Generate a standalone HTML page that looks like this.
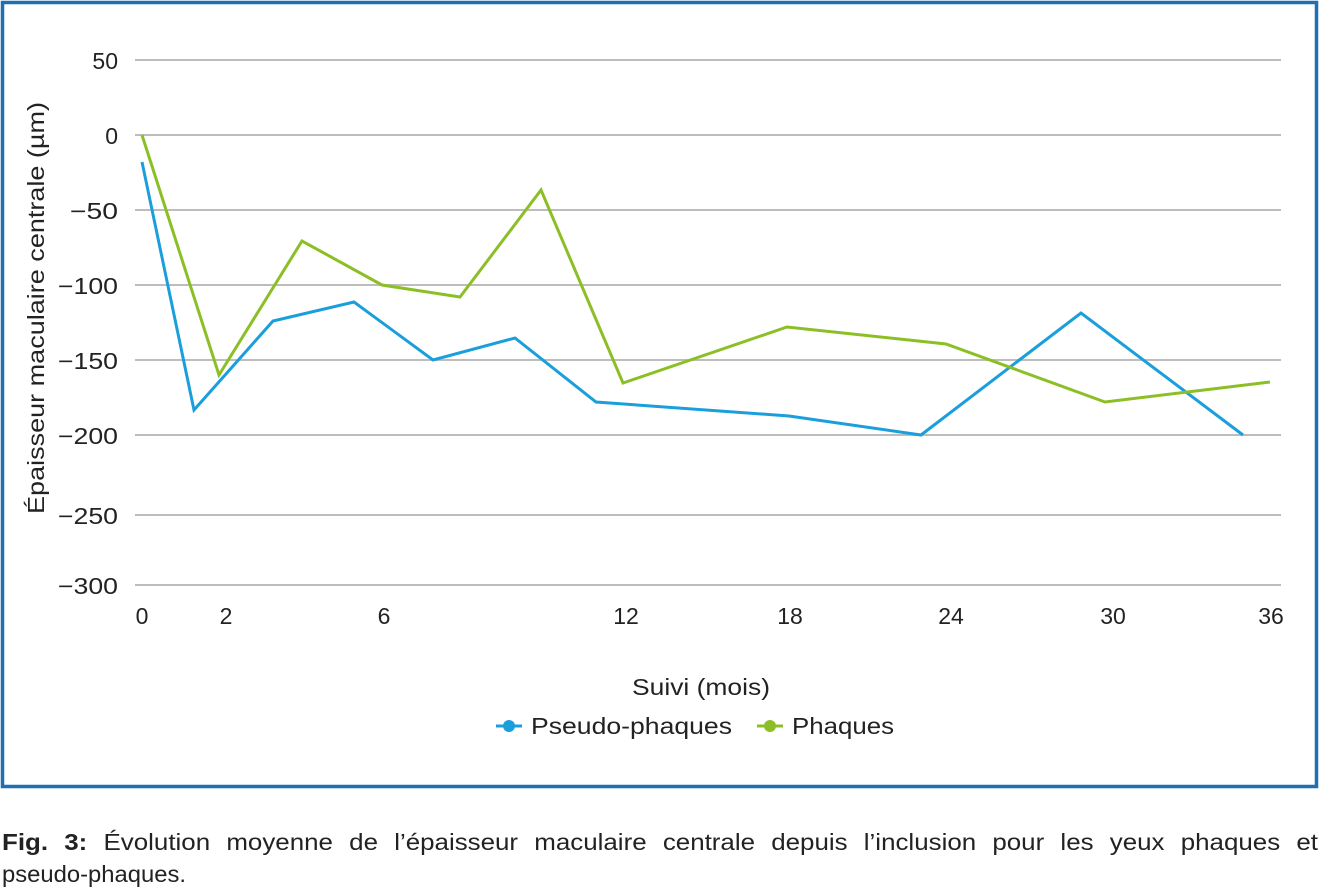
<!DOCTYPE html>
<html><head><meta charset="utf-8"><style>
body{margin:0;background:#fff;width:1320px;height:890px;overflow:hidden;font-family:"Liberation Sans",sans-serif}
</style></head><body>
<svg width="1320" height="890" xmlns="http://www.w3.org/2000/svg" font-family="Liberation Sans, sans-serif">
<rect x="2.5" y="2.5" width="1314" height="784" fill="#fff" stroke="#1e6fb4" stroke-width="3.5"/>
<g stroke="#bdbdbd" stroke-width="2">
<line x1="135" y1="60" x2="1281" y2="60"/><line x1="135" y1="135" x2="1281" y2="135"/>
<line x1="135" y1="210" x2="1281" y2="210"/><line x1="135" y1="285" x2="1281" y2="285"/>
<line x1="135" y1="360" x2="1281" y2="360"/><line x1="135" y1="435" x2="1281" y2="435"/>
<line x1="135" y1="515" x2="1281" y2="515"/><line x1="135" y1="585" x2="1281" y2="585"/>
</g>
<g font-size="23" fill="#222" text-anchor="end">
<text x="118" y="69">50</text><text x="118" y="144">0</text><text x="118" y="219" textLength="48" lengthAdjust="spacingAndGlyphs">−50</text>
<text x="118" y="294" textLength="60" lengthAdjust="spacingAndGlyphs">−100</text><text x="118" y="369" textLength="60" lengthAdjust="spacingAndGlyphs">−150</text><text x="118" y="444" textLength="60" lengthAdjust="spacingAndGlyphs">−200</text>
<text x="118" y="524" textLength="60" lengthAdjust="spacingAndGlyphs">−250</text><text x="118" y="594" textLength="60" lengthAdjust="spacingAndGlyphs">−300</text>
</g>
<g font-size="23" fill="#222" text-anchor="middle">
<text x="142" y="624">0</text><text x="226" y="624">2</text><text x="384" y="624">6</text>
<text x="626" y="624">12</text><text x="790" y="624">18</text><text x="951" y="624">24</text>
<text x="1113" y="624">30</text><text x="1271" y="624">36</text>
<text x="701" y="695" textLength="138" lengthAdjust="spacingAndGlyphs">Suivi (mois)</text>
</g>
<text transform="translate(44,308) rotate(-90)" font-size="23" fill="#222" text-anchor="middle" textLength="412" lengthAdjust="spacingAndGlyphs">Épaisseur maculaire centrale (µm)</text>
<polyline fill="none" stroke="#1a9fdc" stroke-width="3" points="142,162 194,410 273,321 354,302 433,360 515,338 596,402 789,416 921,435 1081,313 1243,435"/>
<polyline fill="none" stroke="#8cbf26" stroke-width="3" points="142,135 219,375 302,241 382,285 460,297 541,190 623,383 787,327 946,344 1105,402 1270,382"/>
<line x1="496" y1="726" x2="522" y2="726" stroke="#1a9fdc" stroke-width="3"/><circle cx="509" cy="726" r="6" fill="#1a9fdc"/>
<line x1="757" y1="726" x2="783" y2="726" stroke="#8cbf26" stroke-width="3"/><circle cx="770" cy="726" r="6" fill="#8cbf26"/>
<g font-size="23" fill="#222"><text x="531" y="734" textLength="201" lengthAdjust="spacingAndGlyphs">Pseudo-phaques</text><text x="792" y="734" textLength="102" lengthAdjust="spacingAndGlyphs">Phaques</text></g>
<text x="2" y="850" font-size="23" fill="#222" word-spacing="8" textLength="1316" lengthAdjust="spacingAndGlyphs"><tspan font-weight="bold">Fig. 3:</tspan> Évolution moyenne de l’épaisseur maculaire centrale depuis l’inclusion pour les yeux phaques et</text>
<text x="2" y="882" font-size="23" fill="#222" textLength="184" lengthAdjust="spacingAndGlyphs">pseudo-phaques.</text>
</svg>
</body></html>
